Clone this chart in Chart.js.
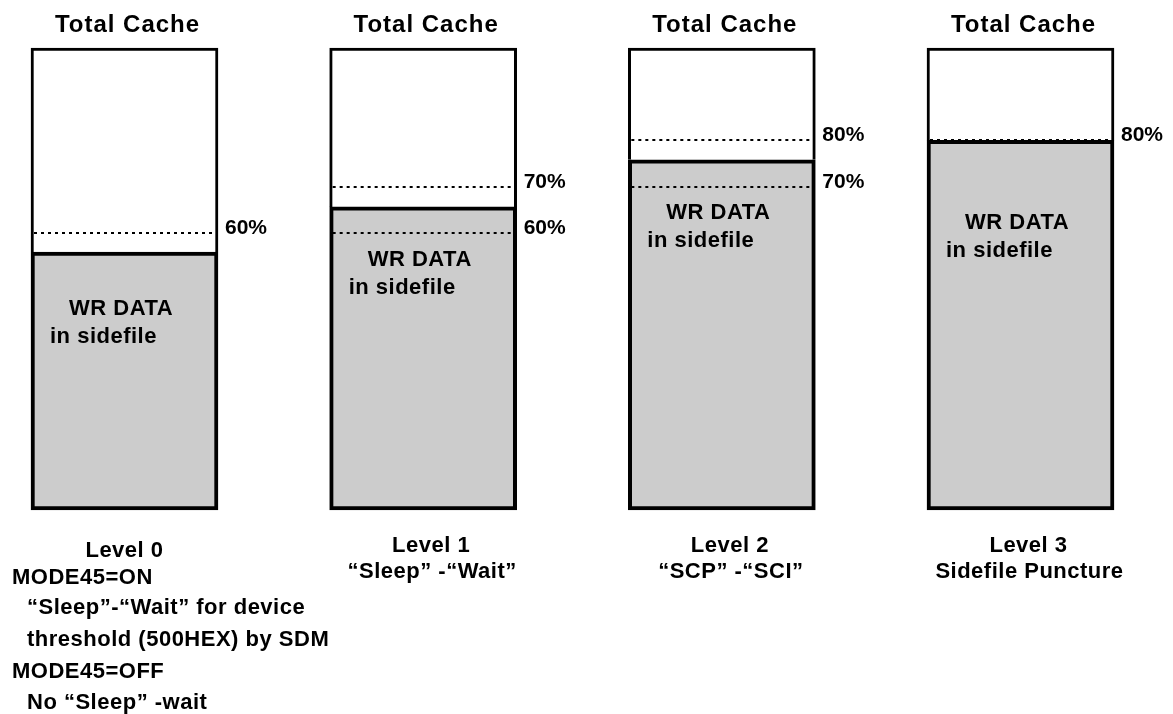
<!DOCTYPE html>
<html>
<head>
<meta charset="utf-8">
<script src="https://cdn.jsdelivr.net/npm/chart.js@4.4.1/dist/chart.umd.min.js"></script>
<style>
  html, body { margin: 0; padding: 0; background: #fff; }
  #wrap { width: 1173px; height: 714px; }
</style>
</head>
<body>
<div id="wrap"><canvas id="myChart" width="1173" height="714"></canvas></div>
<script>
// cache levels, values in % of total cache
const levels = ["Level 0", "Level 1", "Level 2", "Level 3"];
const wrData = [55.8, 65.6, 75.8, 80];
const totalCache = [100, 100, 100, 100];
const thresholds = [[60], [60, 70], [70, 80], [80]];
const captions = [[], ["\u201CSleep\u201D -\u201CWait\u201D"], ["\u201CSCP\u201D -\u201CSCI\u201D"], ["Sidefile Puncture"]];
const level0Notes = [
  ["MODE45=ON", 0],
  ["\u201CSleep\u201D-\u201CWait\u201D for device", 1],
  ["threshold (500HEX) by SDM", 1],
  ["MODE45=OFF", 0],
  ["No \u201CSleep\u201D -wait", 1],
];

const freeData = wrData.map((v, i) => totalCache[i] - v);
const FONT = '"Liberation Sans", Arial, sans-serif';

const textPlugin = {
  id: "cacheText",
  afterDatasetsDraw(chart) {
    const ctx = chart.ctx;
    const y = chart.scales.y;
    const bars = chart.getDatasetMeta(0).data;
    ctx.save();
    ctx.fillStyle = "#000";
    bars.forEach((bar, i) => {
      const left = bar.x - bar.width / 2;
      const right = bar.x + bar.width / 2;

      // dotted threshold lines + % labels
      thresholds[i].forEach((t) => {
        const py = Math.round(y.getPixelForValue(t));
        ctx.save();
        ctx.strokeStyle = "#000";
        ctx.lineWidth = 2;
        ctx.setLineDash([3, 4]);
        ctx.beginPath();
        ctx.moveTo(left + 3, py);
        ctx.lineTo(right - 5, py);
        ctx.stroke();
        ctx.restore();
        ctx.font = "bold 21px " + FONT;
        ctx.textAlign = "left";
        ctx.textBaseline = "alphabetic";
        ctx.letterSpacing = "0px";
        ctx.fillText(t + "%", right + 7, py + 1);
      });

      // title above box
      ctx.font = "bold 24px " + FONT;
      ctx.letterSpacing = "1px";
      ctx.textAlign = "center";
      ctx.fillText("Total Cache", bar.x + 3, 32);

      // text inside gray part
      const top = y.getPixelForValue(wrData[i]);
      const drop = i === 3 ? 89 : (i === 0 ? 63 : 59);
      ctx.font = "bold 22px " + FONT;
      ctx.letterSpacing = "0.5px";
      ctx.textAlign = "left";
      ctx.fillText("WR DATA", left + 38, top + drop);
      ctx.fillText("in sidefile", left + 19, top + drop + 28);

      // labels under box
      ctx.textAlign = "center";
      if (i === 0) {
        ctx.fillText(levels[i], bar.x, 557);
      } else {
        ctx.fillText(levels[i], bar.x + 8, 552);
        captions[i].forEach((c, k) => ctx.fillText(c, bar.x + 9, 578 + k * 30));
      }
    });

    // notes under level 0
    const base = [584, 614, 646, 678, 709];
    ctx.textAlign = "left";
    level0Notes.forEach(([txt, ind], k) => {
      ctx.fillText(txt, ind ? 27 : 12, base[k]);
    });
    ctx.restore();
  },
};

const ctx = document.getElementById("myChart").getContext("2d");
const myChart = new Chart(ctx, {
  type: "bar",
  data: {
    labels: levels,
    datasets: [
      {
        label: "WR DATA in sidefile",
        data: wrData,
        backgroundColor: "#cccccc",
        borderColor: "#000",
        borderWidth: 4,
        borderSkipped: false,
        barThickness: 187,
        clip: false,
      },
      {
        label: "Total Cache",
        data: freeData,
        backgroundColor: "#ffffff",
        borderColor: "#000",
        borderWidth: 3,
        barThickness: 187,
        clip: false,
      },
    ],
  },
  options: {
    responsive: false,
    animation: false,
    events: [],
    layout: { padding: { left: 124.5, right: 152.5, top: 48, bottom: 204 } },
    plugins: { legend: { display: false }, title: { display: false }, tooltip: { enabled: false } },
    scales: {
      x: { stacked: true, offset: false, display: false },
      y: { stacked: true, min: 0, max: 100, display: false },
    },
  },
  plugins: [textPlugin],
});
</script>
</body>
</html>
